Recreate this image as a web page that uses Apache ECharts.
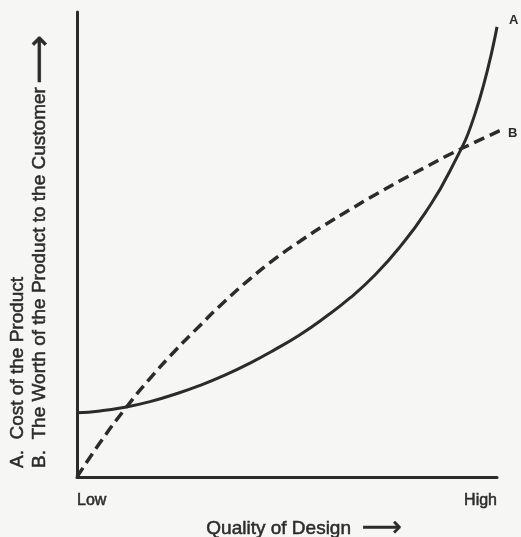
<!DOCTYPE html>
<html>
<head>
<meta charset="utf-8">
<script src="https://cdn.jsdelivr.net/npm/echarts@6/dist/echarts.min.js"></script>
<style>
  html, body { margin: 0; padding: 0; background: #f6f6f4; }
  #chart { width: 521px; height: 537px; }
</style>
</head>
<body>
<div id="chart"></div>
<script>
// A: cost of the product (solid)
const qualityA = [0, 5.5, 11.4, 17.4, 23.3, 29.3, 35.2, 41.2, 47.1, 53.1, 59, 65, 71, 76.9, 82.9, 88.8, 94.8, 100];
const costA = [13.8, 14.2, 15.0, 16.2, 17.8, 19.7, 21.9, 24.5, 27.4, 30.6, 34.3, 38.5, 43.5, 49.5, 56.8, 65.8, 78.2, 96.8];
// B: worth of the product to the customer (dashed)
const qualityB = [0, 5.5, 11.4, 17.4, 23.3, 29.3, 35.2, 41.2, 47.1, 53.1, 59, 65, 71, 76.9, 82.9, 88.8, 94.8, 100.7];
const worthB = [0, 7.4, 14.6, 21.2, 27.1, 32.6, 37.8, 42.6, 46.9, 50.7, 54.2, 57.5, 60.7, 63.7, 66.6, 69.4, 72.0, 74.5];
const xTickLabels = ["Low", "High"];

const ink = "#2b2b2b";
const font = '"Liberation Sans", Arial, sans-serif';
// scanned type looks a little heavy, thicken it slightly
const heavy = { textBorderColor: ink, textBorderWidth: 0.5 };

let chart = echarts.init(document.getElementById("chart"));
let option = {
  backgroundColor: "#f6f6f4",
  animation: false,
  grid: { left: 77, right: 24, top: 12, bottom: 60, outerBoundsMode: "none", containLabel: false },
  xAxis: {
    type: "value",
    min: 0,
    max: 100,
    interval: 100,
    name: "Quality of Design  {arr|\u27F6}",
    nameLocation: "middle",
    nameGap: 36,
    nameTextStyle: {
      fontSize: 19,
      color: ink,
      fontFamily: font,
      padding: [0, 0, 0, 34],
      ...heavy,
      rich: { arr: { fontSize: 28, color: ink, fontFamily: "DejaVu Sans", ...heavy } },
    },
    axisLine: { lineStyle: { color: ink, width: 3 } },
    axisTick: { show: false },
    splitLine: { show: false },
    axisLabel: {
      margin: 16,
      fontSize: 16,
      color: ink,
      fontFamily: font,
      ...heavy,
      alignMinLabel: "left",
      alignMaxLabel: "right",
      formatter: (v) => (v === 0 ? xTickLabels[0] : xTickLabels[1]),
    },
  },
  yAxis: {
    type: "value",
    min: 0,
    max: 100,
    axisLine: { show: true, lineStyle: { color: ink, width: 3 } },
    axisTick: { show: false },
    axisLabel: { show: false },
    splitLine: { show: false },
  },
  graphic: [
    {
      type: "text",
      x: 18,
      y: 468,
      rotation: Math.PI / 2,
      style: {
        text: "A.  Cost of the Product",
        fill: ink,
        font: "19px " + font,
        stroke: ink,
        lineWidth: 0.5,
        align: "left",
        verticalAlign: "middle",
      },
    },
    {
      type: "text",
      x: 40,
      y: 468,
      rotation: Math.PI / 2,
      style: {
        text: "B.  The Worth of the Product to the Customer",
        fill: ink,
        font: "19px " + font,
        stroke: ink,
        lineWidth: 0.5,
        align: "left",
        verticalAlign: "middle",
      },
    },
    {
      type: "text",
      x: 41,
      y: 84,
      rotation: Math.PI / 2,
      style: {
        text: "\u27F6",
        fill: ink,
        font: '34px "DejaVu Sans"',
        stroke: ink,
        lineWidth: 0.6,
        align: "left",
        verticalAlign: "middle",
      },
    },
  ],
  series: [
    {
      name: "A",
      type: "line",
      data: qualityA.map((x, i) => [x, costA[i]]),
      smooth: true,
      symbol: "none",
      clip: false,
      lineStyle: { color: ink, width: 3 },
      endLabel: {
        show: true,
        formatter: "{a}",
        fontSize: 13,
        fontWeight: "bold",
        color: ink,
        fontFamily: font,
        offset: [4, -6],
      },
    },
    {
      name: "B",
      type: "line",
      data: qualityB.map((x, i) => [x, worthB[i]]),
      smooth: true,
      symbol: "none",
      clip: false,
      lineStyle: { color: ink, width: 3.5, type: [11, 6] },
      endLabel: {
        show: true,
        formatter: "{a}",
        fontSize: 13,
        fontWeight: "bold",
        color: ink,
        fontFamily: font,
        offset: [0, 3],
      },
    },
  ],
};
chart.setOption(option);
</script>
</body>
</html>
